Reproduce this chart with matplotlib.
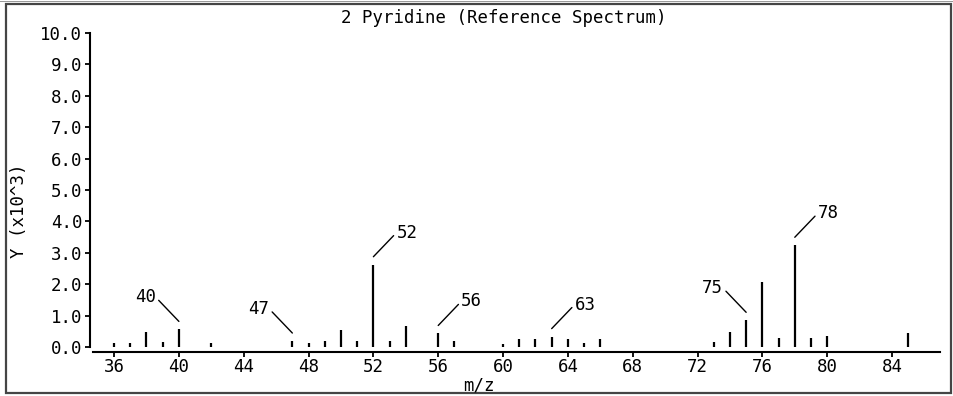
import matplotlib
matplotlib.use("Agg")
import matplotlib.pyplot as plt
import matplotlib.transforms as mtransforms
from matplotlib.patches import Rectangle

# Pyridine reference spectrum: m/z and intensity (in thousands)
mz = [36, 37, 38, 39, 40, 42, 47, 48, 49, 50, 51, 52, 53, 54, 56, 57,
      60, 61, 62, 63, 64, 65, 66, 73, 74, 75, 76, 77, 78, 79, 80, 85]
intensity = [0.14, 0.14, 0.49, 0.17, 0.56, 0.13, 0.19, 0.14, 0.18, 0.55,
             0.18, 2.62, 0.18, 0.66, 0.43, 0.19, 0.11, 0.24, 0.24, 0.33,
             0.24, 0.13, 0.24, 0.16, 0.48, 0.85, 2.07, 0.30, 3.24, 0.30,
             0.35, 0.43]

# labelled peaks and which side the label sits on
peak_labels = [40, 47, 52, 56, 63, 75, 78]
label_side = [-1, -1, 1, 1, 1, -1, 1]

x_ticks = list(range(36, 85, 4))
y_ticks = [float(v) for v in range(0, 11)]

W, H = 954, 396
fig = plt.figure(figsize=(W / 100, H / 100), dpi=100)
plt.rcParams['font.family'] = ['DejaVu Sans Mono']
fs = 12.5

# axes box in pixels: x 93..940, y(0)=347, y(10)=33
ax = fig.add_axes([93 / W, (H - 347) / H, (940 - 93) / W, (347 - 33) / H])
ax.set_xlim(34.7, 86.96)
ax.set_ylim(0, 10)

ax.vlines(mz, 0, intensity, colors='black', linewidth=1.6)

for spine in ['top', 'right']:
    ax.spines[spine].set_visible(False)
ax.spines['left'].set_position(('outward', 3 * 72 / 100))
ax.spines['bottom'].set_position(('outward', 5 * 72 / 100))
for spine in ['left', 'bottom']:
    ax.spines[spine].set_linewidth(1.5)

ax.set_xticks(x_ticks)
ax.set_yticks(y_ticks)
ax.set_yticklabels(['%.1f' % v for v in y_ticks])
ax.tick_params(axis='both', direction='out', length=3.5, width=1.3,
               labelsize=fs, colors='black')
ax.tick_params(axis='x', pad=1)
ax.tick_params(axis='y', pad=2)

# axis titles
fig.text(479 / W, 1 - 386 / H, 'm/z', ha='center', va='center', fontsize=fs)
fig.text(19 / W, 1 - 211 / H, 'Y (x10^3)', ha='center', va='center',
         rotation=90, fontsize=fs)

fig.text(504 / W, 1 - 18 / H, '2 Pyridine (Reference Spectrum)',
         ha='center', va='center', fontsize=fs)

# leader lines start 8 px above each peak
above = mtransforms.offset_copy(ax.transData, fig=fig, x=0, y=8, units='dots')
for m, side in zip(peak_labels, label_side):
    val = intensity[mz.index(m)]
    ax.annotate(str(m), xy=(m, val), xycoords=above,
                xytext=(23 * side, 24), textcoords='offset pixels',
                ha='left' if side > 0 else 'right', va='center',
                fontsize=fs,
                arrowprops=dict(arrowstyle='-', color='black', lw=1.0,
                                shrinkA=0, shrinkB=0,
                                relpos=(0, 0.5) if side > 0 else (1, 0.5)))

# outer frame
fig.patches.append(Rectangle((6 / W, 3 / H), (951 - 6) / W, (392 - 3) / H,
                             transform=fig.transFigure, fill=False,
                             edgecolor='#454545', linewidth=1.6))
fig.patches.append(Rectangle((0, 1 - 2 / H), 1, 1 / H,
                             transform=fig.transFigure, fill=True,
                             facecolor='#9a9a9a', edgecolor='none'))

fig.savefig('out.png', dpi=100)
